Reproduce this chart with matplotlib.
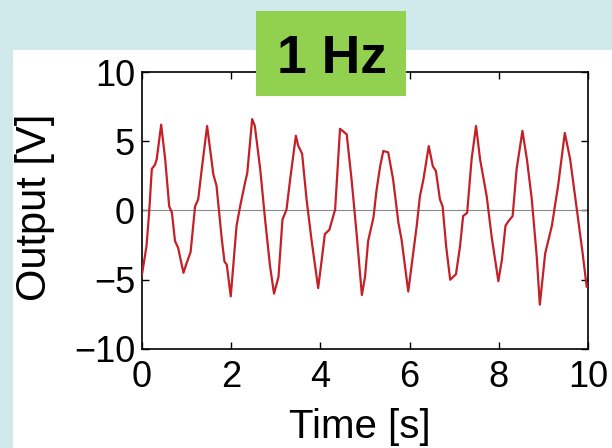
import matplotlib.pyplot as plt
from matplotlib.patches import Rectangle

plt.rcParams['font.family'] = ['Liberation Sans', 'DejaVu Sans']

# señal medida a 1 Hz
time_s = [0.00, 0.10, 0.16, 0.22, 0.29, 0.33, 0.43, 0.52, 0.61, 0.67, 0.74, 0.81, 0.93, 1.00,
          1.09, 1.19, 1.26, 1.34, 1.46, 1.60, 1.67, 1.79, 1.85, 1.90, 1.99, 2.12, 2.20, 2.31,
          2.36, 2.47, 2.53, 2.65, 2.76, 2.87, 2.96, 3.06, 3.15, 3.24, 3.32, 3.45, 3.50, 3.59,
          3.69, 3.80, 3.95, 4.03, 4.10, 4.20, 4.33, 4.44, 4.59, 4.70, 4.81, 4.93, 5.00, 5.07,
          5.19, 5.26, 5.34, 5.41, 5.52, 5.63, 5.75, 5.82, 5.97, 6.08, 6.16, 6.23, 6.31, 6.43,
          6.52, 6.59, 6.68, 6.74, 6.82, 6.91, 7.04, 7.13, 7.20, 7.29, 7.39, 7.49, 7.58, 7.73,
          7.84, 7.99, 8.07, 8.15, 8.21, 8.31, 8.40, 8.53, 8.63, 8.74, 8.85, 8.92, 9.04, 9.19,
          9.33, 9.48, 9.60, 9.75, 9.88, 9.97]
output_v = [-4.6, -2.6, -0.15, 3.0, 3.3, 3.7, 6.2, 3.7, 0.3, -0.15, -2.2, -2.7, -4.5, -3.8,
            -3.0, 0.3, 0.8, 3.0, 6.1, 2.6, 1.8, -2.1, -3.7, -3.9, -6.2, -1.1, 0.3, 2.0,
            2.7, 6.6, 6.1, 3.0, -0.65, -4.0, -6.0, -4.8, -0.65, 0.07, 2.2, 5.4, 4.7, 4.1,
            0.8, -2.1, -5.6, -3.55, -1.7, -1.4, 0.07, 5.9, 5.5, 2.2, -1.6, -6.1, -4.8, -2.2,
            -0.5, 1.5, 3.2, 4.3, 4.2, 2.25, -0.9, -2.1, -5.85, -3.1, -1.1, 1.0, 2.25, 4.65,
            3.2, 2.85, 0.8, 0.3, -2.6, -5.0, -4.6, -2.6, -0.4, -0.17, 3.7, 6.1, 3.7, 1.0,
            -1.9, -5.1, -3.55, -1.1, -0.8, -0.4, 3.0, 5.75, 3.7, 0.8, -3.3, -6.8, -3.1, -1.1,
            1.8, 5.6, 3.7, 0.07, -3.1, -5.5]

x_ticks = [0, 2, 4, 6, 8, 10]
y_ticks = [-10, -5, 0, 5, 10]
freq_label = '1 Hz'

fig = plt.figure(figsize=(6.12, 4.48), dpi=100, facecolor='#d0e9eb')

# panel blanco detras del grafico
fig.patches.append(Rectangle((13 / 612, 0), 1, 1 - 50 / 448, transform=fig.transFigure,
                             facecolor='white', edgecolor='none', zorder=0))

ax = fig.add_axes([142 / 612, 1 - 349 / 448, 446 / 612, 277 / 448])
ax.set_zorder(2)
ax.plot(time_s, output_v, color='#c42028', lw=1.6, zorder=3)
ax.axhline(0, color='#8a8a8a', lw=0.8, zorder=2)

ax.set_xlim(0, 10)
ax.set_ylim(-10, 10)
ax.set_xticks(x_ticks)
ax.set_yticks(y_ticks)
ax.set_yticklabels([str(v).replace('-', '\u2212') for v in y_ticks])
ax.tick_params(direction='in', length=5, width=1, top=True, right=True,
               labelsize=26)
ax.tick_params(axis='x', pad=8)
ax.tick_params(axis='y', pad=5)
for s in ax.spines.values():
    s.set_linewidth(1.2)

ax.set_xlabel('Time [s]', fontsize=29)
ax.set_ylabel('Output [V]', fontsize=30)
ax.xaxis.set_label_coords(0.488, -0.212)
ax.yaxis.set_label_coords(-0.195, 0.512)

# etiqueta verde de frecuencia
fig.patches.append(Rectangle((256 / 612, 1 - 96 / 448), 150 / 612, 85 / 448,
                             transform=fig.transFigure, facecolor='#92d050',
                             edgecolor='none', zorder=5))
fig.text(332 / 612, 1 - 53.5 / 448, freq_label, fontsize=38.5, fontweight='bold',
         ha='center', va='center_baseline', zorder=6)

fig.savefig('out.png', dpi=100, facecolor=fig.get_facecolor())
